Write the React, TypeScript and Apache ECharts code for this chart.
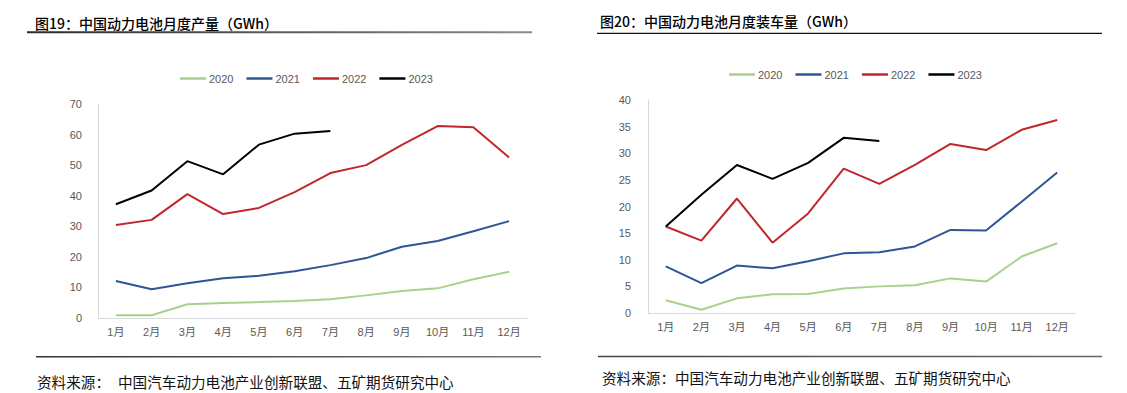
import React, { useEffect, useRef } from "react";
import * as echarts from "echarts";

const months = ["1月", "2月", "3月", "4月", "5月", "6月", "7月", "8月", "9月", "10月", "11月", "12月"];
const years = ["2020", "2021", "2022", "2023"];
const colors = ["#A9D18E", "#2F5597", "#C0272D", "#000000"];

// 图19 production (GWh)
const prod2020 = [0.9, 0.9, 4.5, 4.9, 5.2, 5.6, 6.1, 7.4, 8.8, 9.7, 12.7, 15.1];
const prod2021 = [12.1, 9.4, 11.4, 13.0, 13.8, 15.3, 17.3, 19.6, 23.3, 25.2, 28.4, 31.7];
const prod2022 = [30.4, 32.1, 40.5, 34.0, 36.0, 41.2, 47.4, 50.0, 56.6, 62.8, 62.4, 52.5];
const prod2023 = [37.2, 41.7, 51.3, 47.0, 56.7, 60.3, 61.2];

// 图20 installation (GWh)
const inst2020 = [2.4, 0.6, 2.75, 3.5, 3.56, 4.6, 5.0, 5.2, 6.5, 5.9, 10.6, 13.1];
const inst2021 = [8.75, 5.6, 8.9, 8.4, 9.7, 11.2, 11.4, 12.5, 15.6, 15.5, 20.9, 26.4];
const inst2022 = [16.25, 13.6, 21.5, 13.2, 18.7, 27.1, 24.25, 27.8, 31.75, 30.6, 34.4, 36.25];
const inst2023 = [16.25, 22.2, 27.8, 25.2, 28.2, 32.9, 32.3];

const title1 = "图19：中国动力电池月度产量（GWh）";
const title2 = "图20：中国动力电池月度装车量（GWh）";
const sourceLabel = "资料来源：";
const sourceText = "中国汽车动力电池产业创新联盟、五矿期货研究中心";
const sourceFull = "资料来源：中国汽车动力电池产业创新联盟、五矿期货研究中心";

const FONT = "'Liberation Sans', 'Noto Sans CJK SC', sans-serif";
const CJK = "'Noto Sans CJK SC', sans-serif";
const LABEL_COLOR = "#595959";
const AXIS_COLOR = "#D9D9D9";

export default function App() {
  const ref = useRef<HTMLDivElement>(null);

  useEffect(() => {
    if (!ref.current) return;
    const chart = echarts.init(ref.current, undefined, { renderer: "svg" });

    const prodData = [prod2020, prod2021, prod2022, prod2023];
    const instData = [inst2020, inst2021, inst2022, inst2023];

    const mkSeries = (data: number[][], idx: number) =>
      data.map((d, i) => ({
        name: years[i],
        type: "line",
        xAxisIndex: idx,
        yAxisIndex: idx,
        data: d,
        symbol: "none",
        lineStyle: { width: 2, color: colors[i] },
        itemStyle: { color: colors[i] },
        z: 2 + i,
      }));

    const xAxisBase = (gridIndex: number) => ({
      type: "category",
      gridIndex,
      data: months,
      boundaryGap: true,
      axisLine: { show: true, lineStyle: { color: AXIS_COLOR, width: 1 } },
      axisTick: { show: false },
      axisLabel: { color: LABEL_COLOR, fontSize: 11, fontFamily: FONT, margin: 8, interval: 0 },
      splitLine: { show: false },
    });

    const yAxisBase = (gridIndex: number, max: number, interval: number, margin: number) => ({
      type: "value",
      gridIndex,
      min: 0,
      max,
      interval,
      axisLine: { show: true, lineStyle: { color: AXIS_COLOR, width: 1 } },
      axisTick: { show: false },
      axisLabel: { color: LABEL_COLOR, fontSize: 11, fontFamily: FONT, margin },
      splitLine: { show: false },
    });

    const legendBase = (left: number, top: number) => ({
      left,
      top,
      orient: "horizontal",
      data: years,
      icon: "rect",
      itemWidth: 26,
      itemHeight: 2.5,
      itemGap: 13,
      padding: 0,
      selectedMode: false,
      textStyle: { color: LABEL_COLOR, fontSize: 11, fontFamily: FONT, padding: [0, 0, 0, -2] },
    });

    const lineGrad = (c1: string, c2: string) =>
      new echarts.graphic.LinearGradient(0, 0, 1, 0, [
        { offset: 0, color: c1 },
        { offset: 1, color: c2 },
      ]);

    chart.setOption({
      animation: false,
      backgroundColor: "#ffffff",
      legend: [legendBase(180, 73), legendBase(729, 69)],
      grid: [
        { left: 98, top: 104, width: 429, height: 214, containLabel: false },
        { left: 648, top: 100, width: 427, height: 213, containLabel: false },
      ],
      xAxis: [xAxisBase(0), xAxisBase(1)],
      yAxis: [yAxisBase(0, 70, 10, 16), yAxisBase(1, 40, 5, 17)],
      series: [...mkSeries(prodData, 0), ...mkSeries(instData, 1)],
      graphic: [
        {
          type: "text",
          x: 35,
          y: 22.5,
          style: { text: title1, fontSize: 14, fontWeight: 500, fontFamily: CJK, fill: "#000", verticalAlign: "middle" },
        },
        {
          type: "rect",
          shape: { x: 27, y: 31.3, width: 505, height: 2 },
          style: { fill: lineGrad("#2a2a2a", "#8a8a8a") },
        },
        {
          type: "text",
          x: 600,
          y: 20.5,
          style: { text: title2, fontSize: 14, fontWeight: 500, fontFamily: CJK, fill: "#000", verticalAlign: "middle" },
        },
        {
          type: "rect",
          shape: { x: 597, y: 32.8, width: 505, height: 1.3 },
          style: { fill: "#111" },
        },
        {
          type: "rect",
          shape: { x: 36, y: 356, width: 505, height: 1.5 },
          style: { fill: lineGrad("#333", "#777") },
        },
        {
          type: "text",
          x: 37,
          y: 381.5,
          style: { text: sourceLabel, fontSize: 14.6, fontFamily: CJK, fill: "#111", verticalAlign: "middle" },
        },
        {
          type: "text",
          x: 118,
          y: 381.5,
          style: { text: sourceText, fontSize: 14.6, fontFamily: CJK, fill: "#111", verticalAlign: "middle" },
        },
        {
          type: "rect",
          shape: { x: 598, y: 355.8, width: 504, height: 1.5 },
          style: { fill: lineGrad("#444", "#666") },
        },
        {
          type: "text",
          x: 602,
          y: 377,
          style: { text: sourceFull, fontSize: 14.6, fontFamily: CJK, fill: "#111", verticalAlign: "middle" },
        },
      ],
    });

    return () => chart.dispose();
  }, []);

  return (
    <div
      ref={ref}
      style={{ position: "absolute", left: 0, top: 0, width: 1127, height: 393, background: "#fff" }}
    />
  );
}
